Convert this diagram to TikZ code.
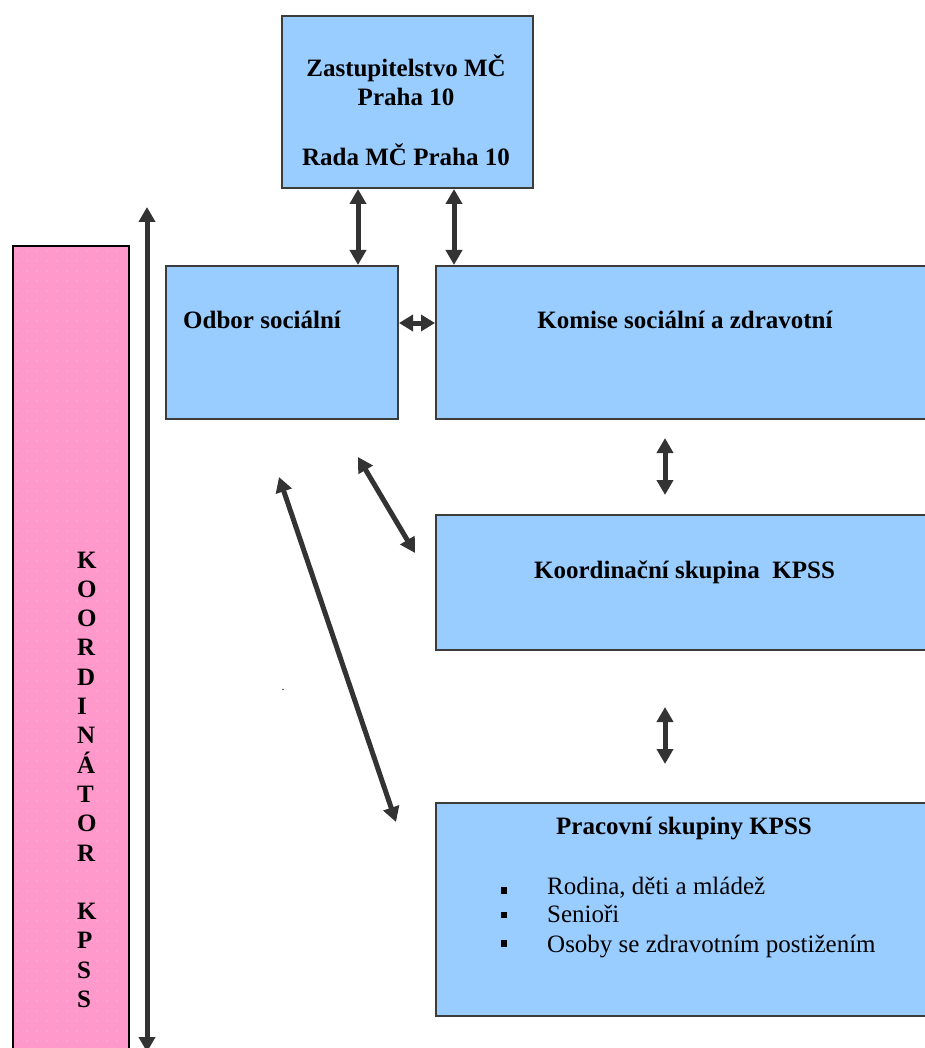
\documentclass[tikz,border=0pt]{standalone}
\usepackage{fontspec}
\setmainfont{Liberation Serif}
\usetikzlibrary{arrows.meta}
\definecolor{boxblue}{HTML}{99CCFF}
\definecolor{pinkbar}{HTML}{FF99CC}
\definecolor{pinkdot}{HTML}{FFCCE6}
\definecolor{linegray}{HTML}{333333}
\definecolor{edgegray}{HTML}{3C3C3C}
\begin{document}
\begin{tikzpicture}[x=1pt,y=-1pt,
  boxstyle/.style={draw=edgegray, line width=2pt, fill=boxblue, inner sep=0pt, anchor=north west},
  pinkstyle/.style={draw=black, line width=2pt, fill=pinkbar, inner sep=0pt, anchor=north west},
  boldtext/.style={font=\fontsize{25}{29.3}\selectfont\bfseries, inner sep=0pt},
  plaintext/.style={font=\fontsize{25}{29.3}\selectfont, inner sep=0pt, anchor=base west},
  bulletsq/.style={fill=black, minimum size=6.5pt, inner sep=0pt},
  dblarrow/.style={draw=linegray, line width=5pt, {Triangle[width=16pt,length=15pt]}-{Triangle[width=16pt,length=15pt]}},
  sglarrow/.style={draw=linegray, line width=5pt, -{Triangle[width=16pt,length=15pt]}}
]
\path[use as bounding box, fill=white] (0,0) rectangle (925,1048);
\clip (0,0) rectangle (925,1048);

% pink coordinator bar
\node[pinkstyle, minimum width=116pt, minimum height=830pt] (pink) at (12,245) {};
\foreach \dx in {17,27,...,122}{
  \foreach \dy in {251,261,...,1045}{
    \fill[pinkdot] (\dx,\dy) circle (0.7);
  }
}
\foreach \l [count=\i from 0] in {K,O,O,R,D,I,N,Á,T,O,R,{},K,P,S,S}{
  \node[boldtext, anchor=base west] (letter\i) at (77,568+29.3*\i) {\l};
}

% boxes
\node[boxstyle, minimum width=251pt, minimum height=172pt] (top) at (281,15) {};
\node[boxstyle, minimum width=232pt, minimum height=153pt] (odbor) at (165,265) {};
\node[boxstyle, minimum width=520pt, minimum height=153pt] (komise) at (435,265) {};
\node[boxstyle, minimum width=520pt, minimum height=135pt] (koord) at (435,514) {};
\node[boxstyle, minimum width=520pt, minimum height=213pt] (prac) at (435,802) {};

% texts
\node[boldtext, anchor=base] (t1) at (406,77) {Zastupitelstvo MČ};
\node[boldtext, anchor=base] (t2) at (406,106) {Praha 10};
\node[boldtext, anchor=base] (t3) at (406,166) {Rada MČ Praha 10};
\node[boldtext, anchor=base west] (todbor) at (183,328) {Odbor sociální};
\node[boldtext, anchor=base] (tkomise) at (685,328) {Komise sociální a zdravotní};
\node[boldtext, anchor=base] (tkoord) at (684.5,578) {Koordinační skupina\ \ KPSS};
\node[boldtext, anchor=base] (tprac) at (684,834) {Pracovní skupiny KPSS};

\node[bulletsq] (b1) at (504,890.5) {};
\node[bulletsq] (b2) at (504,915) {};
\node[bulletsq] (b3) at (504,943.5) {};
\node[plaintext] (r1) at (547,894) {Rodina, děti a mládež};
\node[plaintext] (r2) at (547,922) {Senioři};
\node[plaintext] (r3) at (547,952) {Osoby se zdravotním postižením};

\node[font=\fontsize{12}{14}\selectfont, inner sep=0pt, anchor=base] (dot) at (283,690) {.};

% helper coordinates
\coordinate (lv) at (358,0);
\coordinate (rv) at (454,0);
\coordinate (hy) at (0,323);
\coordinate (k1) at (665,438);
\coordinate (k2) at (665,495);
\coordinate (k3) at (665,707);
\coordinate (k4) at (665,764);
\coordinate (d1a) at (358,457);
\coordinate (d1b) at (415,553);
\coordinate (d2a) at (279,477);
\coordinate (d2b) at (396,822);
\coordinate (bigtop) at (147,207);
\coordinate (bigbot) at (147,1052);

% connectors
\draw[dblarrow] (top.south -| lv) -- (odbor.north -| lv);
\draw[dblarrow] (top.south -| rv) -- (komise.north -| rv);
\draw[draw=linegray, line width=5pt, {Triangle[width=16pt,length=14pt]}-{Triangle[width=16pt,length=14pt]}] (odbor.east |- hy) -- (komise.west |- hy);
\draw[dblarrow] (k1) -- (k2);
\draw[dblarrow] (k3) -- (k4);
\draw[dblarrow] (d1a) -- (d1b);
\draw[dblarrow] (d2a) -- (d2b);
\draw[dblarrow] (bigtop) -- (bigbot);
\end{tikzpicture}
\end{document}
